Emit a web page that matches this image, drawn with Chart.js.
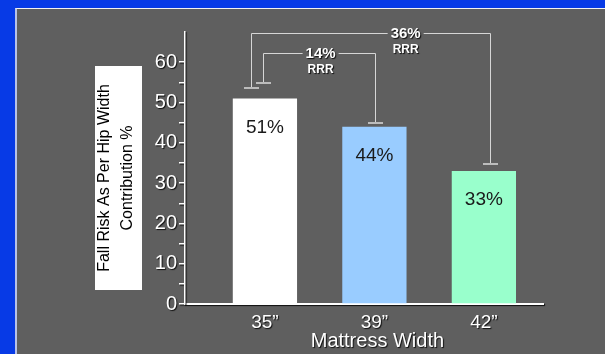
<!DOCTYPE html>
<html>
<head>
<meta charset="utf-8">
<script src="https://cdn.jsdelivr.net/npm/chart.js@4/dist/chart.umd.min.js"></script>
<style>
  html, body { margin: 0; padding: 0; width: 605px; height: 354px; overflow: hidden; background: #073ae6; }
  #panel { position: absolute; left: 15px; top: 8px; width: 588px; height: 345px; background: #5f5f5f;
           border-top: 1px solid #f2f2f2; border-left: 2px solid #b8c2e8; }
  #wrap { position: absolute; left: 0; top: 0; width: 605px; height: 354px; }
</style>
</head>
<body>
<div id="panel"></div>
<div id="wrap"><canvas id="c" width="605" height="354"></canvas></div>
<script>
// Mattress widths and the fall-risk contribution of hip width for each
const categories = ['35\u201D', '39\u201D', '42\u201D'];
const fallRisk = [51, 44, 33];
const barLabels = ['51%', '44%', '33%'];
const barColors = ['#ffffff', '#99ccff', '#99ffcc'];
const yTickValues = [0, 5, 10, 15, 20, 25, 30, 35, 40, 45, 50, 55, 60];
const yTitleLines = ['Fall Risk As Per Hip Width', 'Contribution %'];
const xTitle = 'Mattress Width';
// relative risk reductions versus the 35" mattress
const rrrFrom = [0, 0];
const rrrTo = [1, 2];
const rrrText = ['14%', '36%'];
const rrrNote = ['RRR', 'RRR'];

const FONT = '"Liberation Sans", Arial, Helvetica, sans-serif';
Chart.defaults.font.family = FONT;

function setShadow(ctx, on) {
  ctx.shadowColor = on ? 'rgba(0,0,0,0.85)' : 'rgba(0,0,0,0)';
  ctx.shadowOffsetX = on ? 1 : 0;
  ctx.shadowOffsetY = on ? 1 : 0;
  ctx.shadowBlur = on ? 1 : 0;
}

// bracket geometry: leg offsets (px) from bar centres, heights in axis units
const bracketShape = [
  { dxFrom: -2, dxTo: 1, top: 62.4, endFrom: 54.9, endTo: 44.8, at: 0.51 },
  { dxFrom: -14, dxTo: 6, top: 67.3, endFrom: 53.6, endTo: 34.8, at: 0.645 }
];

const decor = {
  id: 'decor',
  beforeDraw(chart) {
    const ctx = chart.ctx;
    const area = chart.chartArea;
    // boxed, rotated y-axis title
    ctx.save();
    ctx.fillStyle = '#ffffff';
    ctx.fillRect(area.left - 90, 66, 47, 224);
    ctx.fillStyle = '#000000';
    ctx.font = '16px ' + FONT;
    ctx.textAlign = 'center';
    ctx.textBaseline = 'middle';
    yTitleLines.forEach((line, i) => {
      ctx.save();
      ctx.translate(area.left - 80 + i * 23, 178);
      ctx.rotate(-Math.PI / 2);
      ctx.fillText(line, 0, 0);
      ctx.restore();
    });
    ctx.restore();
    // axis text gets a drop shadow
    setShadow(ctx, true);
  },
  beforeDatasetsDraw(chart) {
    setShadow(chart.ctx, false);
  },
  afterDatasetsDraw(chart) {
    const ctx = chart.ctx;
    const xs = chart.scales.x, ys = chart.scales.y;
    ctx.save();
    setShadow(ctx, false);
    ctx.textAlign = 'center';
    ctx.textBaseline = 'middle';

    // value labels inside the bars
    ctx.fillStyle = '#1a1a1a';
    ctx.font = '19px ' + FONT;
    fallRisk.forEach((v, i) => {
      ctx.fillText(barLabels[i], xs.getPixelForValue(i), ys.getPixelForValue(v) + 29);
    });

    // reduction brackets
    rrrFrom.forEach((from, k) => {
      const g = bracketShape[k];
      const xl = Math.round(xs.getPixelForValue(from) + g.dxFrom) + 0.5;
      const xr = Math.round(xs.getPixelForValue(rrrTo[k]) + g.dxTo) + 0.5;
      const yt = Math.round(ys.getPixelForValue(g.top)) + 0.5;
      const yl = Math.round(ys.getPixelForValue(g.endFrom));
      const yr = Math.round(ys.getPixelForValue(g.endTo));
      const tx = xl + (xr - xl) * g.at;
      ctx.font = 'bold 15px ' + FONT;
      const half = ctx.measureText(rrrText[k]).width / 2 + 3;

      ctx.strokeStyle = '#d6d6d6';
      ctx.lineWidth = 1;
      ctx.beginPath();
      ctx.moveTo(xl, yl);
      ctx.lineTo(xl, yt);
      ctx.lineTo(tx - half, yt);
      ctx.moveTo(tx + half, yt);
      ctx.lineTo(xr, yt);
      ctx.lineTo(xr, yr);
      ctx.stroke();

      ctx.strokeStyle = '#bcbcbc';
      ctx.lineWidth = 2;
      ctx.beginPath();
      ctx.moveTo(xl - 7.5, yl); ctx.lineTo(xl + 7.5, yl);
      ctx.moveTo(xr - 7.5, yr); ctx.lineTo(xr + 7.5, yr);
      ctx.stroke();

      setShadow(ctx, true);
      ctx.fillStyle = '#ffffff';
      ctx.fillText(rrrText[k], tx, yt);
      ctx.font = 'bold 12px ' + FONT;
      ctx.fillText(rrrNote[k], tx, yt + 16.5);
      setShadow(ctx, false);
    });

    // x-axis title
    setShadow(ctx, true);
    ctx.fillStyle = '#ffffff';
    ctx.font = '20px ' + FONT;
    ctx.fillText(xTitle, xs.getPixelForValue(1) + 3, 341);
    ctx.restore();
  }
};

new Chart(document.getElementById('c'), {
  type: 'bar',
  data: {
    datasets: [{
      data: fallRisk.map((v, i) => ({ x: i, y: v })),
      backgroundColor: barColors,
      borderWidth: 0,
      categoryPercentage: 1,
      barPercentage: 0.587
    }]
  },
  options: {
    responsive: false,
    animation: false,
    layout: { padding: { top: 32, right: 62, left: 0, bottom: 0 } },
    plugins: { legend: { display: false }, tooltip: { enabled: false } },
    scales: {
      x: {
        type: 'linear',
        offset: false,
        min: -0.73,
        max: 2.54,
        afterBuildTicks: s => { s.ticks = categories.map((_, i) => ({ value: i })); },
        afterFit: s => { s.height = 50; },
        ticks: {
          color: '#ffffff',
          font: { size: 19 },
          padding: 7,
          autoSkip: false,
          maxRotation: 0,
          callback: v => categories[v] ?? ''
        },
        grid: { display: false, drawTicks: false, offset: false },
        border: { display: true, color: '#ffffff', width: 2 }
      },
      y: {
        min: 0,
        max: 67.5,
        afterBuildTicks: s => { s.ticks = yTickValues.map(v => ({ value: v })); },
        afterFit: s => { s.width = 185; },
        ticks: {
          color: '#ffffff',
          font: { size: 20 },
          padding: 2,
          autoSkip: false,
          callback: v => (v % 10 === 0 ? String(v) : '')
        },
        grid: { drawOnChartArea: false, drawTicks: true, tickLength: 6, color: '#ffffff', lineWidth: 1.5 },
        border: { display: true, color: '#ffffff', width: 1.5 }
      }
    }
  },
  plugins: [decor]
});
</script>
</body>
</html>
